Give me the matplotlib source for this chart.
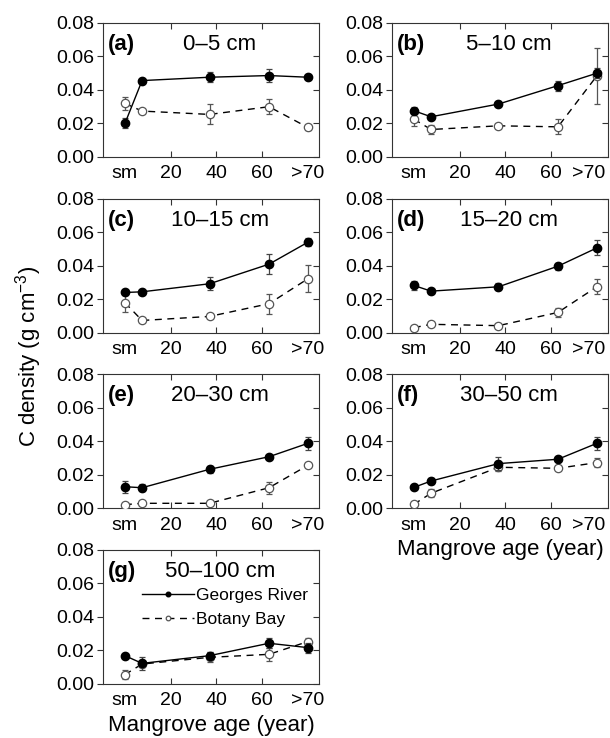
import numpy as np
import matplotlib.pyplot as plt

plt.rcParams['font.family'] = ['Liberation Sans', 'DejaVu Sans']
plt.rcParams['mathtext.fontset'] = 'custom'
plt.rcParams['mathtext.rm'] = 'Liberation Sans'

# mangrove age positions (sm = saltmarsh at 0, >70 drawn at 80)
age = np.array([0, 7.5, 37, 63, 80])
tick_pos = [0, 20, 40, 60, 80]
tick_lab = ['sm', '20', '40', '60', '>70']

panels = ['(a)', '(b)', '(c)', '(d)', '(e)', '(f)', '(g)']
depths = ['0–5 cm', '5–10 cm', '10–15 cm', '15–20 cm', '20–30 cm', '30–50 cm', '50–100 cm']

# Georges River: mean and error
gr = [[0.0200, 0.0456, 0.0476, 0.0486, 0.0476],
      [0.0276, 0.0240, 0.0316, 0.0426, 0.0500],
      [0.0240, 0.0244, 0.0292, 0.0409, 0.0540],
      [0.0282, 0.0248, 0.0274, 0.0397, 0.0506],
      [0.0129, 0.0123, 0.0233, 0.0308, 0.0388],
      [0.0125, 0.0163, 0.0267, 0.0293, 0.0388],
      [0.0169, 0.0123, 0.0169, 0.0243, 0.0217]]
gr_err = [[0.003, 0.001, 0.003, 0.004, 0.001],
          [0.002, 0.001, 0.001, 0.003, 0.003],
          [0.0015, 0.001, 0.0038, 0.006, 0.0025],
          [0.0025, 0.001, 0.002, 0.002, 0.0045],
          [0.0035, 0.002, 0.002, 0.001, 0.004],
          [0.001, 0.002, 0.004, 0.001, 0.004],
          [0.001, 0.004, 0.002, 0.003, 0.003]]

# Botany Bay: mean and error
bb = [[0.0320, 0.0274, 0.0254, 0.0300, 0.0176],
      [0.0226, 0.0164, 0.0186, 0.0180, 0.0484],
      [0.0179, 0.0073, 0.0097, 0.0173, 0.0322],
      [0.0030, 0.0050, 0.0042, 0.0121, 0.0274],
      [0.0022, 0.0030, 0.0030, 0.0123, 0.0257],
      [0.0024, 0.0090, 0.0245, 0.0239, 0.0273],
      [0.0056, 0.0119, 0.0159, 0.0177, 0.0253]]
bb_err = [[0.004, 0.001, 0.006, 0.0045, 0.0015],
          [0.004, 0.0025, 0.001, 0.0045, 0.0165],
          [0.0055, 0.0007, 0.001, 0.006, 0.008],
          [0.001, 0.0007, 0.0007, 0.0025, 0.0045],
          [0.0005, 0.0005, 0.0007, 0.0035, 0.001],
          [0.001, 0.0025, 0.002, 0.001, 0.0025],
          [0.0025, 0.002, 0.003, 0.004, 0.002]]

fig = plt.figure(figsize=(6.1, 7.38), dpi=100)

lefts = [0.1684, 0.6421]
bottoms = [0.7873, 0.5492, 0.3112, 0.0732]
w, h = 0.3551, 0.1816

for i in range(7):
    r, c = divmod(i, 2)
    ax = fig.add_axes([lefts[c], bottoms[r], w, h])

    ax.errorbar(age, bb[i], yerr=bb_err[i], fmt='none', ecolor='#555555',
                elinewidth=0.9, capsize=2.5, capthick=0.9, zorder=2)
    ax.plot(age, bb[i], color='black', lw=1.0, ls=(0, (5, 4)), marker='o',
            ms=6, mfc='white', mec='#555555', mew=0.9, zorder=3, label='Botany Bay')
    ax.errorbar(age, gr[i], yerr=gr_err[i], fmt='none', ecolor='#444444',
                elinewidth=0.9, capsize=2.5, capthick=0.9, zorder=4)
    ax.plot(age, gr[i], color='black', lw=1.0, ls='-', marker='o',
            ms=6, mfc='black', mec='black', zorder=5, label='Georges River')

    ax.set_xlim(-9.7, 85)
    ax.set_ylim(0, 0.08)
    ax.set_yticks([0, 0.02, 0.04, 0.06, 0.08])
    ax.set_yticklabels(['%.2f' % v for v in [0, 0.02, 0.04, 0.06, 0.08]])
    ax.set_xticks([20, 40, 60])
    ax.set_xticklabels(['20', '40', '60'])
    # sm and >70 labels without tick marks; right column squeezes >70 inwards
    end_pos = 80 if c == 0 else 76.5
    ax.set_xticks([0, end_pos], minor=True)
    ax.set_xticklabels([tick_lab[0], tick_lab[-1]], minor=True)
    ax.tick_params(axis='x', which='major', direction='in', top=True, length=4,
                   width=0.8, labelsize=14, pad=6, color='#333333')
    ax.tick_params(axis='x', which='minor', length=0, labelsize=14, pad=6)
    ax.tick_params(axis='y', direction='out', length=4, width=0.8, labelsize=14,
                   pad=2, color='#333333')
    sec = ax.secondary_yaxis('right')
    sec.set_yticks([0, 0.02, 0.04, 0.06, 0.08])
    sec.tick_params(direction='in', length=4, width=0.8, labelright=False, color='#333333')
    sec.spines['right'].set_visible(False)
    for s in ax.spines.values():
        s.set_linewidth(0.8)
        s.set_color('#333333')

    ax.text(0.025, 0.84, panels[i], transform=ax.transAxes, fontsize=16,
            fontweight='bold', va='center', ha='left')
    ax.text(0.54, 0.84, depths[i], transform=ax.transAxes, fontsize=16,
            va='center', ha='center')

    if i in (5, 6):
        ax.set_xlabel('Mangrove age (year)', fontsize=16, labelpad=4)
    if i == 6:
        handles, labels = ax.get_legend_handles_labels()
        ax.legend(handles[::-1], labels[::-1], loc='upper left',
                  bbox_to_anchor=(0.18, 0.716), frameon=False, fontsize=12.5,
                  handlelength=3.0, handletextpad=0.15, labelspacing=0.5,
                  borderpad=0, borderaxespad=0, markerscale=0.55)

fig.text(0.046, 0.5176, 'C density (g cm$^{-3}$)', rotation=90, fontsize=16,
         ha='center', va='center')

fig.savefig('out.png', dpi=100)
